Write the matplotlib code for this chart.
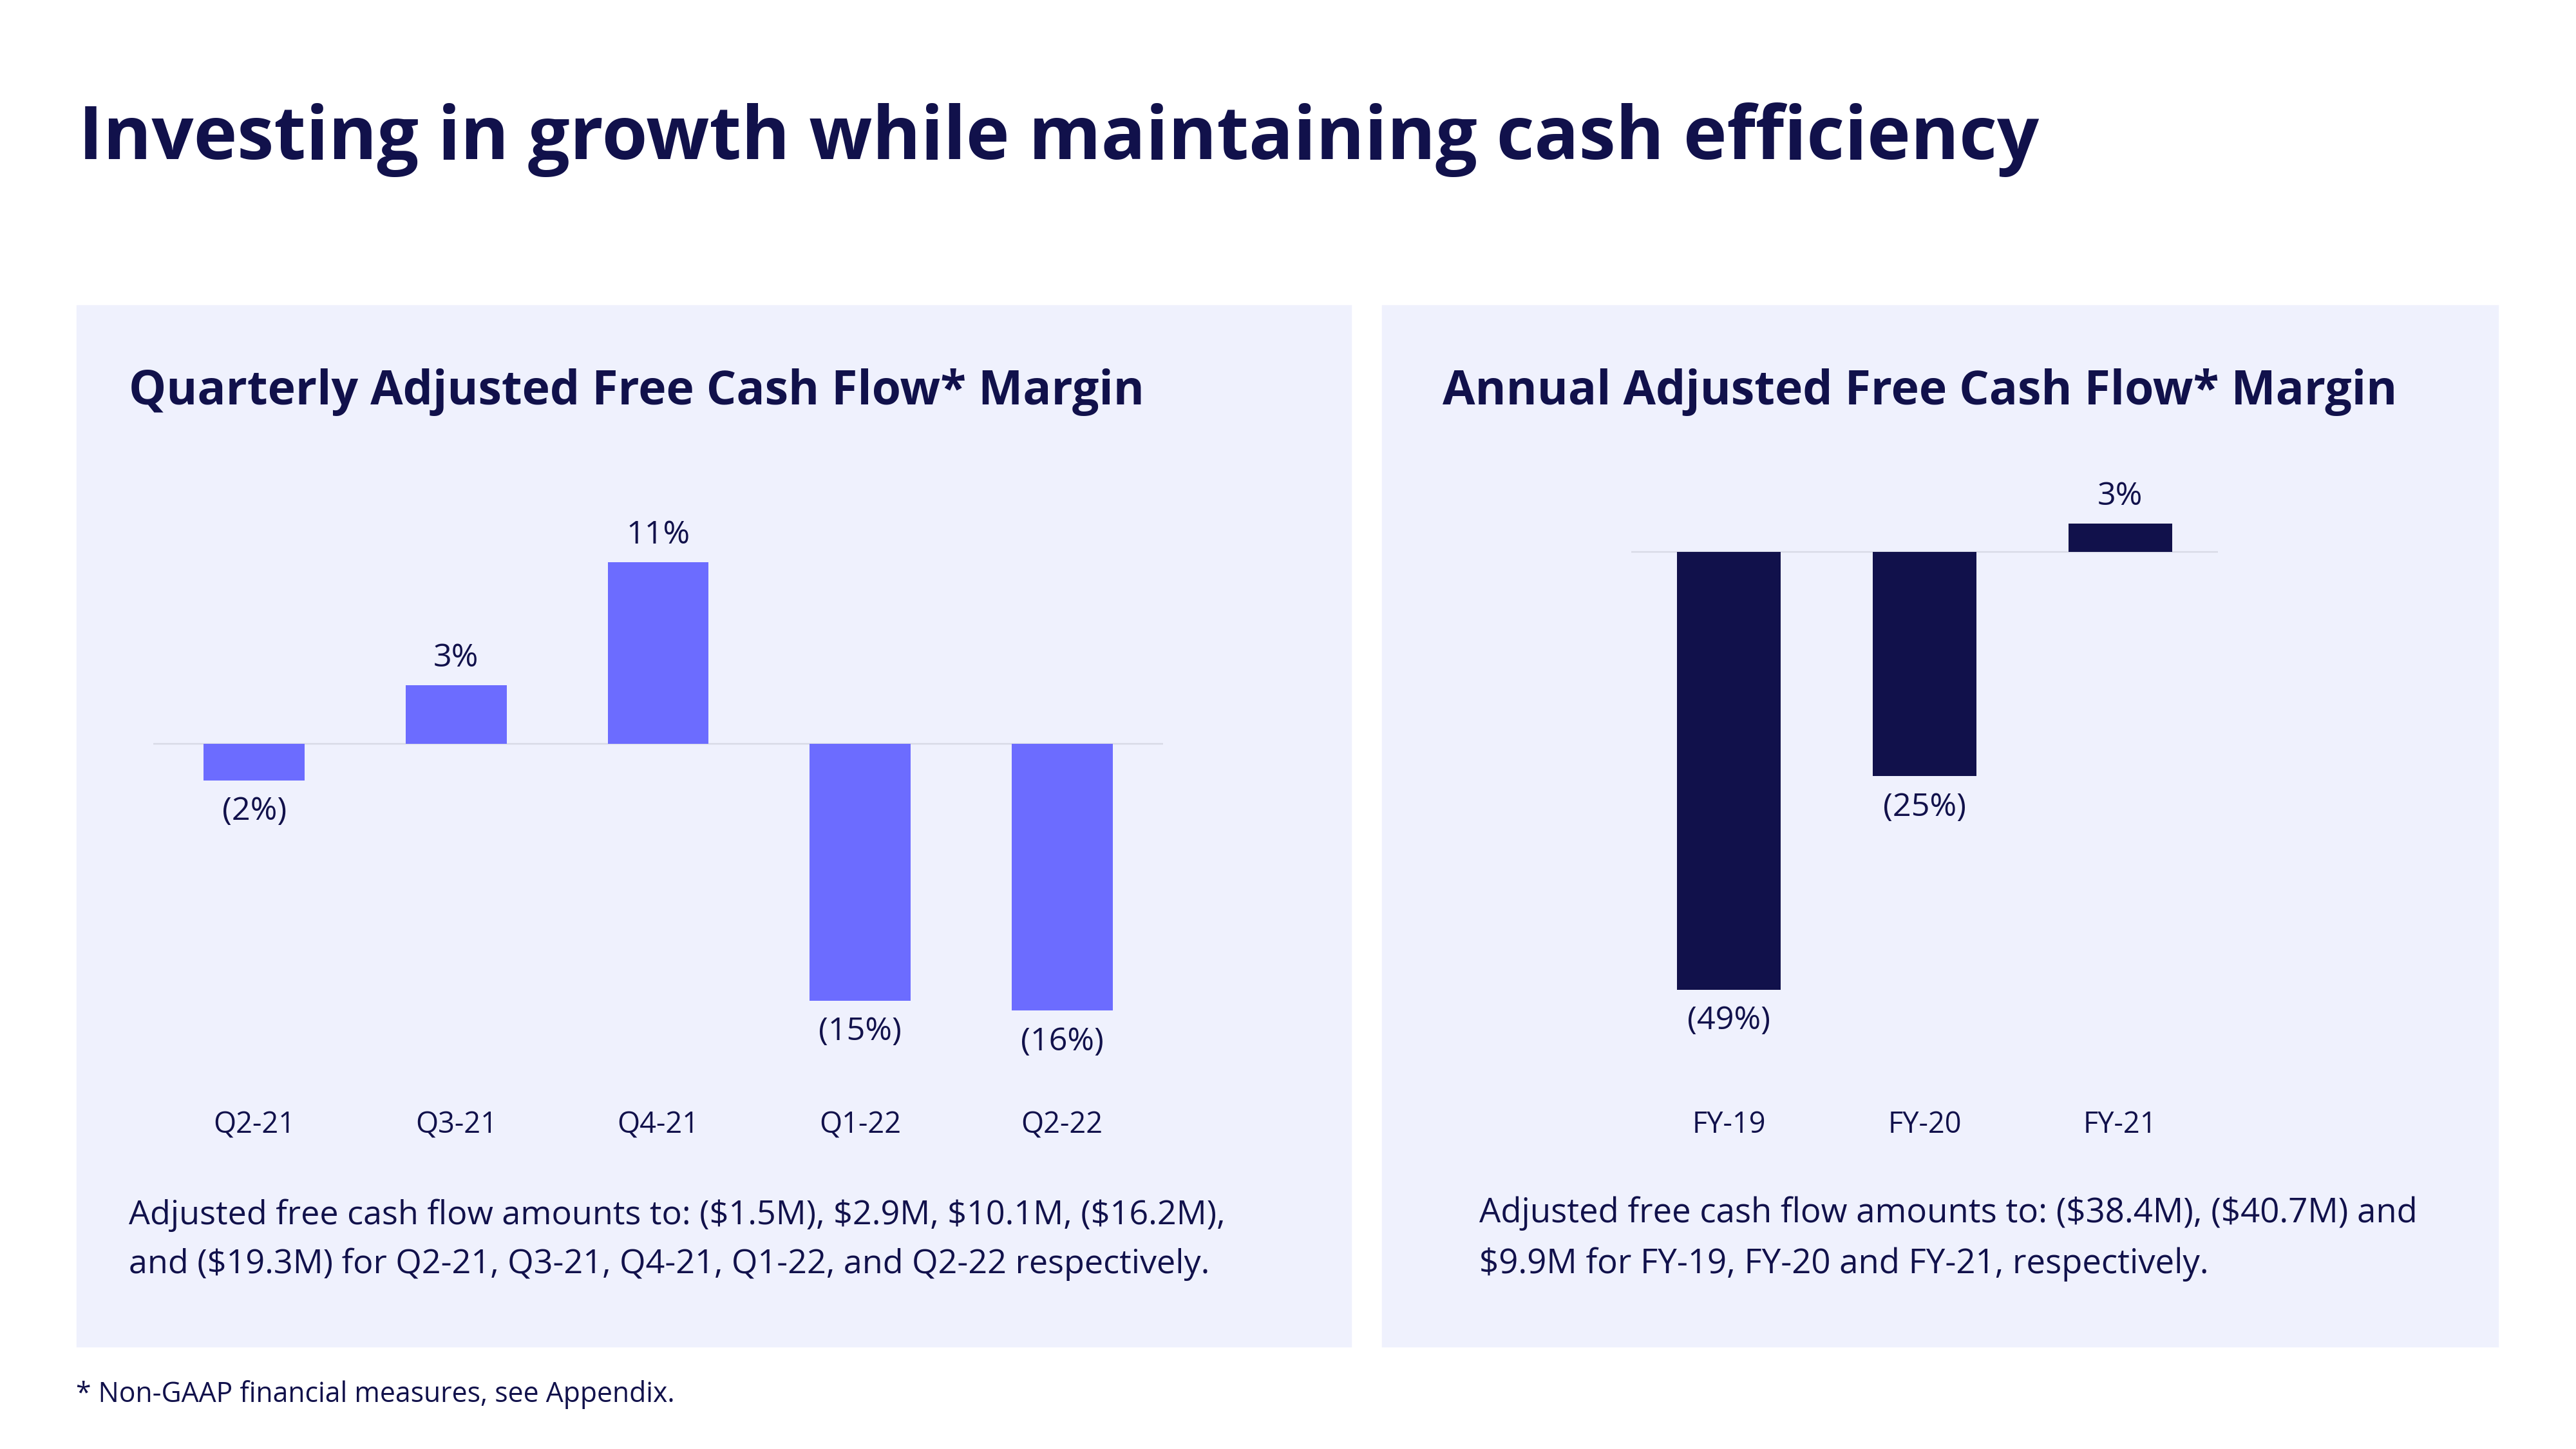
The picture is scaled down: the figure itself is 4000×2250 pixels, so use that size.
import matplotlib.pyplot as plt
from matplotlib.patches import Rectangle

plt.rcParams['font.family'] = ['Open Sans', 'DejaVu Sans']

# data
q_labels = ['Q2-21', 'Q3-21', 'Q4-21', 'Q1-22', 'Q2-22']
q_margin = [-2.2, 3.5, 10.9, -15.4, -16.0]
q_text = ['(2%)', '3%', '11%', '(15%)', '(16%)']

fy_labels = ['FY-19', 'FY-20', 'FY-21']
fy_margin = [-49.0, -25.1, 3.2]
fy_text = ['(49%)', '(25%)', '3%']

NAVY = '#11114B'
PURPLE = '#6C6CFF'
PANEL = '#EFF1FD'
ZERO = '#D8DAE6'

W, H = 4000, 2250
fig = plt.figure(figsize=(16, 9), dpi=250)
fig.patch.set_facecolor('white')


def fx(px):
    return px / W


def fy(py):
    return 1 - py / H


# background panels
for x0, x1 in [(120, 2097), (2147, 3878)]:
    fig.patches.append(Rectangle((fx(x0), fy(2090)), fx(x1 - x0), (2090 - 475) / H,
                                 transform=fig.transFigure, color=PANEL, zorder=-5))

fig.text(fx(122), fy(247), 'Investing in growth while maintaining cash efficiency',
         fontsize=33, fontweight='bold', color=NAVY, va='baseline', ha='left')

fig.text(fx(200), fy(628), 'Quarterly Adjusted Free Cash Flow* Margin',
         fontsize=21.1, fontweight='bold', color=NAVY, va='baseline', ha='left')
fig.text(fx(2240), fy(628), 'Annual Adjusted Free Cash Flow* Margin',
         fontsize=21.1, fontweight='bold', color=NAVY, va='baseline', ha='left')

# multi-line text: baseline refers to the last line
fig.text(fx(200), fy(1977),
         'Adjusted free cash flow amounts to: (\\$1.5M), \\$2.9M, \\$10.1M, (\\$16.2M),\n'
         'and (\\$19.3M) for Q2-21, Q3-21, Q4-21, Q1-22, and Q2-22 respectively.',
         fontsize=15, color=NAVY, va='baseline', ha='left', linespacing=1.62)
fig.text(fx(2297), fy(1977),
         'Adjusted free cash flow amounts to: (\\$38.4M), (\\$40.7M) and\n'
         '\\$9.9M for FY-19, FY-20 and FY-21, respectively.',
         fontsize=15.2, color=NAVY, va='baseline', ha='left', linespacing=1.62)

fig.text(fx(118), fy(2177), '* Non-GAAP financial measures, see Appendix.',
         fontsize=12.3, color=NAVY, va='baseline', ha='left')


def bar_panel(rect_px, zero_px, px_per_unit, labels, vals, texts, color, width):
    x0, x1, y0, y1 = rect_px
    ax = fig.add_axes([fx(x0), fy(y1), fx(x1 - x0), (y1 - y0) / H])
    ax.set_facecolor('none')
    ax.set_xlim(-0.5, len(labels) - 0.5)
    ax.set_ylim(-(y1 - zero_px) / px_per_unit, (zero_px - y0) / px_per_unit)
    ax.axhline(0, color=ZERO, lw=0.7, zorder=1)
    xs = range(len(labels))
    ax.bar(xs, vals, width=width, color=color, zorder=2)
    for x, v, t in zip(xs, vals, texts):
        off = 12 if v > 0 else -14
        ax.annotate(t, (x, v), xytext=(0, off), textcoords='offset points',
                    ha='center', va='center', fontsize=14.5, color=NAVY)
    ax.set_xticks(list(xs))
    ax.set_xticklabels(labels, fontsize=13, color=NAVY)
    ax.tick_params(axis='x', length=0, pad=(1745 - y1) / 250 * 72 - 6)
    ax.set_yticks([])
    for s in ax.spines.values():
        s.set_visible(False)
    return ax


bar_panel((238, 1806, 800, 1650), 1155, 25.9, q_labels, q_margin, q_text, PURPLE, 0.5)
bar_panel((2533, 3444, 740, 1650), 857, 13.88, fy_labels, fy_margin, fy_text, NAVY, 0.53)

fig.savefig('out.png', dpi=250, facecolor='white')
